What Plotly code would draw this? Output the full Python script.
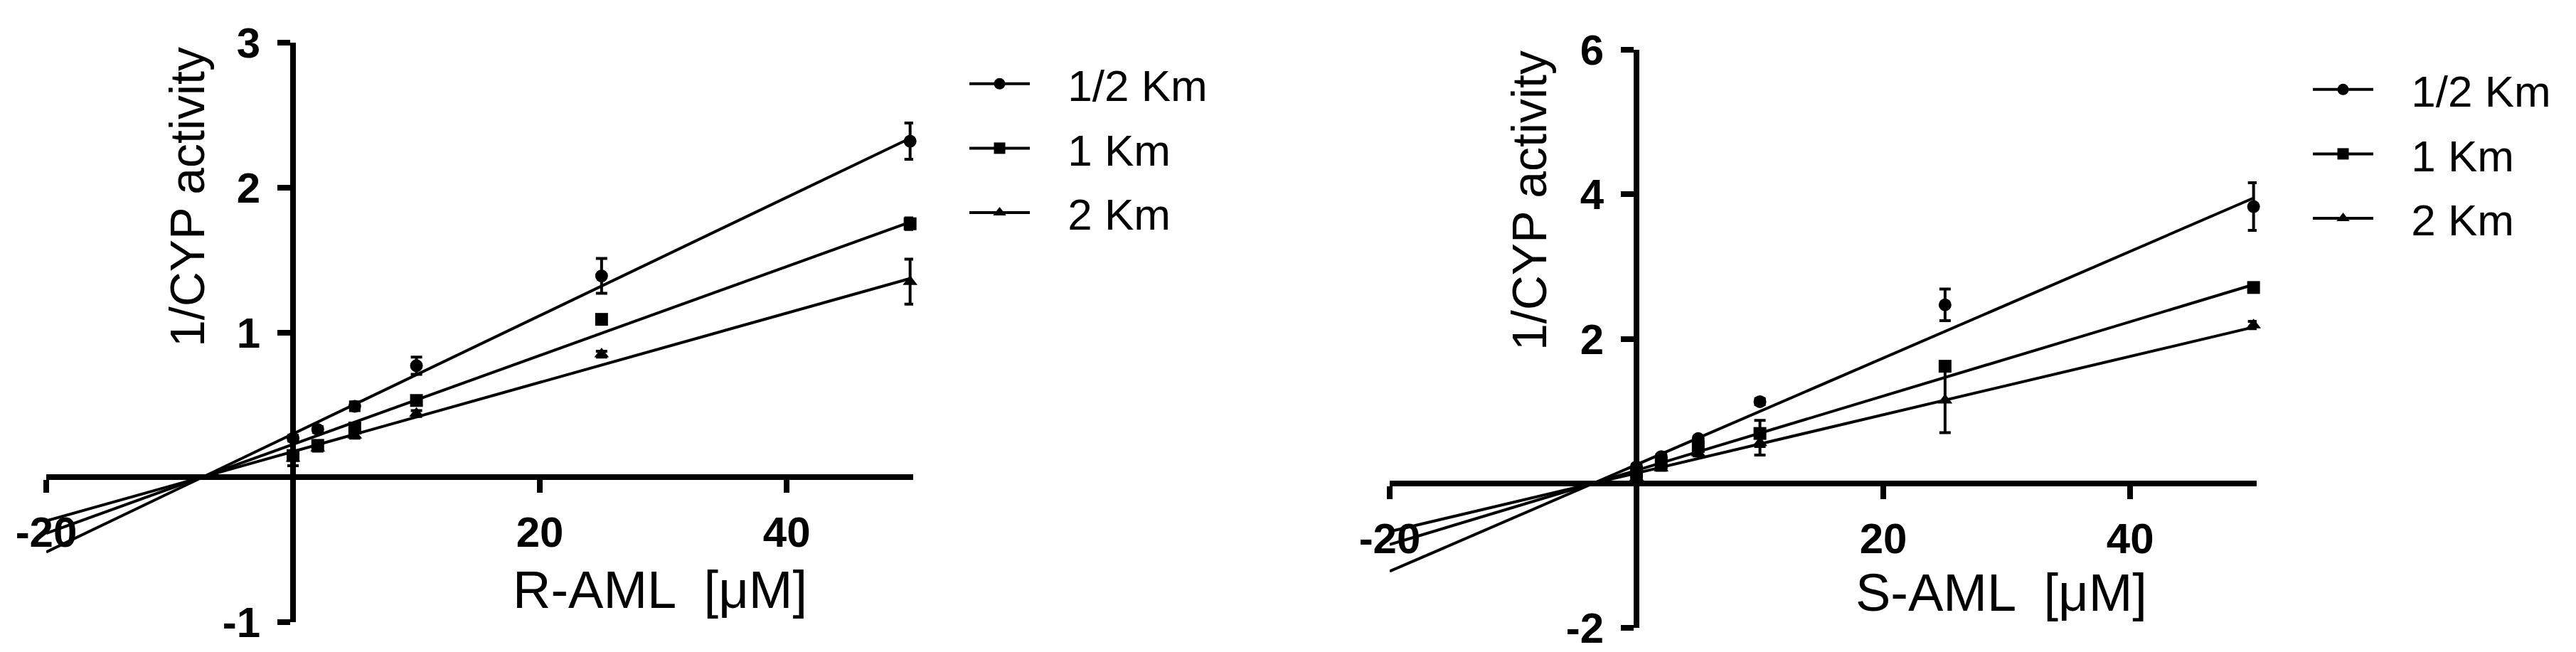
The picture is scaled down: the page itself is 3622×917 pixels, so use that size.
import plotly.graph_objects as go

# substrate concentrations [uM]
conc = [0, 2, 5, 10, 25, 50]
series = ["1/2 Km", "1 Km", "2 Km"]
symbols = ["circle", "square", "triangle-up"]
sym_size = [18, 18, 18]

# R-AML panel (1/CYP activity)
r_half = [0.27, 0.33, 0.49, 0.77, 1.39, 2.32]
r_half_err = [0.02, 0.02, 0.03, 0.06, 0.12, 0.125]
r_one = [0.15, 0.22, 0.34, 0.53, 1.09, 1.75]
r_one_err = [0.03, 0.02, 0.02, 0.02, 0.02, 0.04]
r_two = [0.13, 0.20, 0.29, 0.44, 0.85, 1.35]
r_two_err = [0.05, 0.02, 0.02, 0.02, 0.02, 0.155]
r_slope = [0.0408, 0.0307, 0.0239]
r_intercept = [0.30, 0.227, 0.177]

# S-AML panel
s_half = [0.23, 0.37, 0.62, 1.13, 2.47, 3.83]
s_half_err = [0.03, 0.03, 0.03, 0.04, 0.22, 0.33]
s_one = [0.15, 0.28, 0.51, 0.69, 1.62, 2.71]
s_one_err = [0.03, 0.03, 0.04, 0.18, 0.05, 0.05]
s_two = [0.08, 0.21, 0.42, 0.56, 1.15, 2.19]
s_two_err = [0.03, 0.03, 0.04, 0.17, 0.45, 0.05]
s_slope = [0.0738, 0.0514, 0.0404]
s_intercept = [0.258, 0.18, 0.141]

fit_x = [-20, 50]
x_ticks = [-20, 20, 40]
r_yticks = [-1, 1, 2, 3]
s_yticks = [-2, 2, 4, 6]

W, H = 3622, 917
PAGE_OFFSET = 8  # default body margin of the html page
FONT = "Liberation Sans, Arial, sans-serif"

fig = go.Figure()

panels = [
    dict(ax="", vals=[r_half, r_one, r_two], errs=[r_half_err, r_one_err, r_two_err],
         slope=r_slope, icpt=r_intercept, legend="legend"),
    dict(ax="2", vals=[s_half, s_one, s_two], errs=[s_half_err, s_one_err, s_two_err],
         slope=s_slope, icpt=s_intercept, legend="legend2"),
]

for p in panels:
    xa, ya = "x" + p["ax"], "y" + p["ax"]
    for i in range(3):
        # linear regression line
        fig.add_trace(go.Scatter(
            x=fit_x, y=[p["icpt"][i] + p["slope"][i] * v for v in fit_x],
            mode="lines", line=dict(color="black", width=4),
            xaxis=xa, yaxis=ya, showlegend=False, cliponaxis=False))
        # mean +/- SD
        fig.add_trace(go.Scatter(
            x=conc, y=p["vals"][i], mode="markers",
            marker=dict(symbol=symbols[i], size=sym_size[i], color="black"),
            error_y=dict(type="data", array=p["errs"][i], color="black", thickness=4, width=8),
            xaxis=xa, yaxis=ya, showlegend=False, cliponaxis=False))
        # legend entry
        fig.add_trace(go.Scatter(
            x=[None], y=[None], mode="lines+markers", name="\u2002\u00a0" + series[i],
            line=dict(color="black", width=4),
            marker=dict(symbol=symbols[i], size=sym_size[i], color="black"),
            xaxis=xa, yaxis=ya, legend=p["legend"], legendgroup=p["legend"] + str(i)))


def px_x(v):
    return (v - PAGE_OFFSET) / W


def px_y(v):
    return 1 - (v - PAGE_OFFSET) / H


xr = [-20, 50.25]
left_x = [px_x(65), px_x(1284)]
right_x = [px_x(1954), px_x(3173)]
left_y = [px_y(875), px_y(60)]
right_y = [px_y(883), px_y(70)]


def zero_pos(dom, rng):
    return dom[0] + (0 - rng[0]) / (rng[1] - rng[0]) * (dom[1] - dom[0])


def labels(vals):
    return [str(v) for v in vals]


axis_common = dict(showline=True, linewidth=8, linecolor="black", ticks="outside",
                   ticklen=18, tickwidth=8, tickcolor="black", showgrid=False,
                   zeroline=False, anchor="free", automargin=False,
                   tickfont=dict(family=FONT, size=60, color="black", weight="bold"))

fig.update_layout(
    xaxis=dict(domain=left_x, range=xr, tickvals=x_ticks, ticktext=labels(x_ticks),
               position=zero_pos(left_y, [-1, 3]), ticklabelstandoff=4, **axis_common),
    yaxis=dict(domain=left_y, range=[-1, 3], tickvals=r_yticks, ticktext=labels(r_yticks),
               position=zero_pos(left_x, xr), ticklabelstandoff=12, **axis_common),
    xaxis2=dict(domain=right_x, range=xr, tickvals=x_ticks, ticktext=labels(x_ticks),
                position=zero_pos(right_y, [-2, 6]), ticklabelstandoff=4, **axis_common),
    yaxis2=dict(domain=right_y, range=[-2, 6], tickvals=s_yticks, ticktext=labels(s_yticks),
                position=zero_pos(right_x, xr), ticklabelstandoff=12, **axis_common),
)

legend_common = dict(xanchor="left", yanchor="top", bgcolor="rgba(0,0,0,0)",
                     font=dict(family=FONT, size=62, color="black"),
                     itemwidth=85, itemsizing="trace", tracegroupgap=7)
fig.update_layout(
    legend=dict(x=px_x(1358), y=px_y(71), **legend_common),
    legend2=dict(x=px_x(3247), y=px_y(79), **legend_common),
)

titles = [
    dict(text="R-AML  [\u03bcM]", x=928, y=829, angle=0, size=74),
    dict(text="S-AML  [\u03bcM]", x=2814, y=833, angle=0, size=74),
    dict(text="1/CYP activity", x=263, y=277, angle=-90, size=68),
    dict(text="1/CYP activity", x=2150, y=282, angle=-90, size=68),
]
for t in titles:
    fig.add_annotation(text=t["text"], x=px_x(t["x"]), y=px_y(t["y"]), xref="paper", yref="paper",
                       showarrow=False, textangle=t["angle"], xanchor="center", yanchor="middle",
                       font=dict(family=FONT, size=t["size"], color="black"))

fig.update_layout(width=W, height=H, margin=dict(l=0, r=0, t=0, b=0, autoexpand=False),
                  plot_bgcolor="white", paper_bgcolor="white",
                  font=dict(family=FONT, color="black"))

fig.write_html("out.html")
